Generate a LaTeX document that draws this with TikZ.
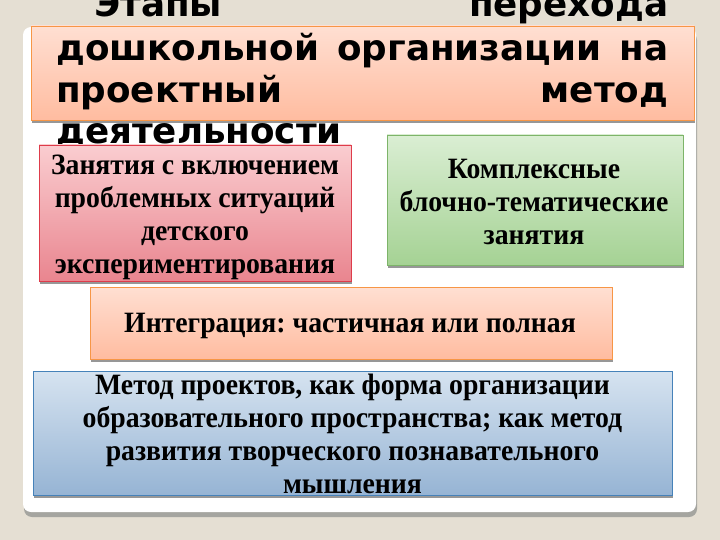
\documentclass[tikz,border=0pt]{standalone}
\usepackage{fontspec}
\setmainfont{Liberation Serif}[FakeStretch=0.94]
\newfontfamily\titlefont{DejaVu Sans}
\usetikzlibrary{shadows}
\frenchspacing
\definecolor{bg}{RGB}{229,223,211}
\definecolor{panelshadow}{RGB}{165,165,160}
\definecolor{orTop}{RGB}{255,223,210}
\definecolor{orBot}{RGB}{255,188,160}
\definecolor{orLine}{RGB}{247,150,70}
\definecolor{pkTop}{RGB}{250,205,208}
\definecolor{pkBot}{RGB}{233,133,143}
\definecolor{pkLine}{RGB}{222,60,75}
\definecolor{gnTop}{RGB}{218,238,211}
\definecolor{gnBot}{RGB}{165,210,148}
\definecolor{gnLine}{RGB}{125,180,105}
\definecolor{blTop}{RGB}{214,227,240}
\definecolor{blBot}{RGB}{150,180,212}
\definecolor{blLine}{RGB}{70,130,185}
\begin{document}
\begin{tikzpicture}[x=1pt,y=-1pt,
  box/.style={draw, line width=0.9pt, inner sep=0pt,
    drop shadow={shadow xshift=1pt, shadow yshift=-3pt, fill=black!45, opacity=0.9}},
  orbox/.style={box, top color=orTop, bottom color=orBot, draw=orLine},
  pkbox/.style={box, top color=pkTop, bottom color=pkBot, draw=pkLine},
  gnbox/.style={box, top color=gnTop, bottom color=gnBot, draw=gnLine},
  blbox/.style={box, top color=blTop, bottom color=blBot, draw=blLine},
  bodytext/.style={inner sep=0pt, align=center,
    font=\fontsize{29.5}{33}\selectfont\bfseries\frenchspacing},
  titletext/.style={inner sep=0pt, anchor=base west,
    font=\titlefont\fontsize{35.7}{42}\selectfont\bfseries}]
\useasboundingbox (0,0) rectangle (720,540);
\fill[bg] (0,0) rectangle (720,540);
% panel
\fill[panelshadow, rounded corners=8pt] (24,32) rectangle (697,517);
\fill[white, rounded corners=8pt] (23,27) rectangle (696,512);
% title box
\node[orbox, minimum width=663pt, minimum height=94pt] (title) at (362.5,73) {};
% title text
\node[titletext] (t1) at (94,17) {\makebox[574pt][s]{Этапы перехода}};
\node[titletext] (t2) at (56,61) {\makebox[612pt][s]{дошкольной организации на}};
\node[titletext] (t3) at (56,103) {\makebox[612pt][s]{проектный метод}};
\node[titletext] (t4) at (56,144) {деятельности};
% boxes
\node[pkbox, minimum width=312pt, minimum height=136pt] (pink) at (195,213) {};
\node[bodytext] (pinktext) at (195,217.7)
  {Занятия с включением\\проблемных ситуаций\\детского\\экспериментирования};
\node[gnbox, minimum width=296pt, minimum height=130pt] (green) at (535,200) {};
\node[bodytext] (greentext) at (534,202.2)
  {Комплексные\\блочно-тематические\\занятия};
\node[orbox, minimum width=522pt, minimum height=72pt] (integ) at (351,323) {};
\node[bodytext] (integtext) at (350,326.2)
  {Интеграция: частичная или полная};
\node[blbox, minimum width=639pt, minimum height=124pt] (method) at (352.5,433) {};
\node[bodytext] (methodtext) at (352.5,433.6)
  {Метод проектов, как форма организации\\образовательного пространства; как метод\\развития творческого познавательного\\мышления};
\end{tikzpicture}
\end{document}
